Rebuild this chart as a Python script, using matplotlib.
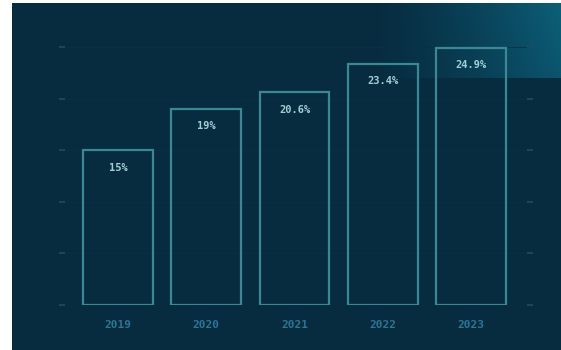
import numpy as np
import matplotlib
matplotlib.use("Agg")
import matplotlib.pyplot as plt
from matplotlib.patches import Rectangle

years = ["2019", "2020", "2021", "2022", "2023"]
values = [15, 19, 20.6, 23.4, 24.9]
labels = ["15%", "19%", "20.6%", "23.4%", "24.9%"]
yticks = [0, 5, 10, 15, 20, 25]

W, H = 561, 350
BG = "#072b3f"
EDGE = "#3b8894"
LABEL = "#9fd0d5"
YEAR = "#287795"
TICK = "#1f4d62"

fig = plt.figure(figsize=(W / 100, H / 100), dpi=100)
fig.patch.set_facecolor("white")

# dark panel
bgax = fig.add_axes([12 / W, 0, (W - 12) / W, (H - 3) / H])
bgax.set_xlim(0, 1)
bgax.set_ylim(0, 1)
bgax.axis("off")
bgax.add_patch(Rectangle((0, 0), 1, 1, color=BG, zorder=0))
# top-right glow
gw, gh = 200, 40
xs = np.linspace(0, 1, gw)
alpha = np.clip(xs, 0, 1) ** 1.4
img = np.zeros((gh, gw, 4))
glow = np.array([0x0c, 0x60, 0x7a]) / 255
img[..., :3] = glow
yy = np.linspace(1, 0.8, gh)[:, None]
img[..., 3] = alpha[None, :] * yy
x0 = (360 - 12) / (W - 12)
y0 = (H - 78) / (H - 3)
bgax.imshow(img, extent=[x0, 1, y0, 1], aspect="auto", zorder=1, interpolation="bilinear")

# main axes
xl, xr = -0.635, 4.669
ax = fig.add_axes([62 / W, 45 / H, (530 - 62) / W, 261 / H])
ax.set_facecolor("none")
ax.set_xlim(xl, xr)
ax.set_ylim(0, 25.3)
x = np.arange(len(years))
ax.bar(x, values, width=0.79, facecolor="none", edgecolor=EDGE, linewidth=1.6, zorder=3)
for xi, v, lab in zip(x, values, labels):
    ax.annotate(lab, (xi, v), xytext=(0, -12.5), textcoords="offset points",
                ha="center", va="center", color=LABEL, fontsize=7.5,
                family="DejaVu Sans Mono", fontweight="bold", zorder=4)

ax.set_xticks(x)
ax.set_xticklabels(years, family="DejaVu Sans Mono", fontweight="bold",
                   fontsize=8, color=YEAR)
ax.tick_params(axis="x", length=0, pad=11)
ax.set_yticks(yticks)
ax.set_yticklabels([])
ax.tick_params(axis="y", direction="inout", length=4, width=1.2, color=TICK,
               left=True, right=True)
ax.grid(axis="y", color="#0a3045", linewidth=0.6, zorder=0)
for s in ax.spines.values():
    s.set_visible(False)

fig.savefig("out.png", dpi=100, facecolor=fig.get_facecolor())
